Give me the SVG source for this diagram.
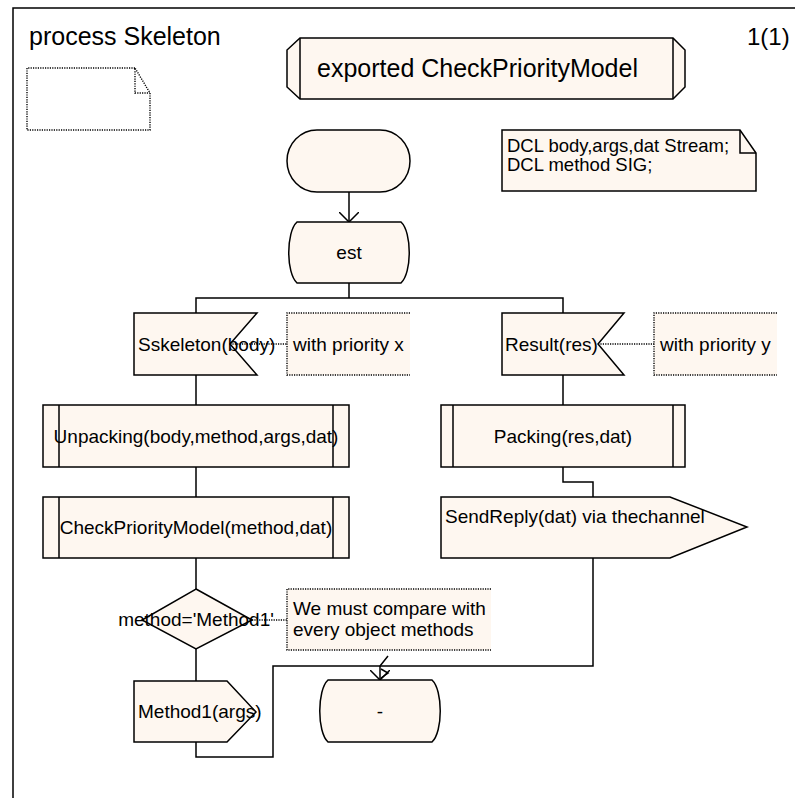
<svg xmlns="http://www.w3.org/2000/svg" width="795" height="798" viewBox="0 0 795 798">
  <style>
    .sym { fill: #FEF7F0; stroke: #000; stroke-width: 1.5; stroke-linejoin: miter; }
    .ln { fill: none; stroke: #000; stroke-width: 1.5; }
    .dot { fill: none; stroke: #000; stroke-width: 1.4; stroke-dasharray: 1.2 1.2; }
    .cmt { fill: #FEF7F0; stroke: none; }
    text { font-family: "Liberation Sans", Arial, sans-serif; font-size: 19px; fill: #000; }
    .mid { text-anchor: middle; }
    .big { font-size: 25px; }
    .dcl { font-size: 18.5px; }
  </style>
  <defs>
    <marker id="open" viewBox="0 0 10 20" refX="10" refY="10" markerWidth="10" markerHeight="20" markerUnits="userSpaceOnUse" orient="auto">
      <path d="M0,0 L10,10 L0,20" fill="none" stroke="#000" stroke-width="1.5"/>
    </marker>
  </defs>

  <rect x="0" y="0" width="795" height="798" fill="#fff"/>

  <!-- diagram frame -->
  <g id="frame">
    <rect x="13" y="8" width="800" height="800" fill="none" stroke="#000" stroke-width="1.5"/>
    <text class="big" x="29" y="45">process Skeleton</text>
    <text x="747" y="45" style="font-size:24px">1(1)</text>
  </g>

  <!-- empty page reference note -->
  <g id="page-note">
    <path class="dot" d="M135,68 H27 V130 H150 V93 L135,68 V93 H150"/>
  </g>

  <!-- exported procedure heading -->
  <g id="heading">
    <path class="sym" d="M300,38 H673 L685,50 V87 L673,99 H300 L287,87 V50 Z"/>
    <path class="ln" d="M300,38 V99 M673,38 V99"/>
    <text class="big" x="317" y="77">exported CheckPriorityModel</text>
  </g>

  <!-- declarations -->
  <g id="dcl">
    <path class="sym" d="M502,130 H740 L756,153 V191 H502 Z"/>
    <path class="ln" d="M740,130 V153 H756"/>
    <text class="dcl" x="507" y="152">DCL body,args,dat Stream;</text>
    <text class="dcl" x="507" y="171">DCL method SIG;</text>
  </g>

  <!-- start -->
  <g id="start">
    <rect class="sym" x="287" y="130" width="123" height="62" rx="30" ry="31"/>
  </g>

  <!-- state est -->
  <g id="state-est">
    <path class="sym" d="M297,222 H401 C412,232 412,273 401,283 H297 C286,273 286,232 297,222 Z"/>
    <text class="mid" x="349" y="259">est</text>
  </g>

  <!-- input Sskeleton(body) -->
  <g id="input-sskeleton">
    <path class="sym" d="M134,313 H257 L230,344 L257,375 H134 Z"/>
    <text x="138" y="351">Sskeleton(body)</text>
  </g>
  <g id="comment-priority-x">
    <rect class="cmt" x="287" y="313" width="123" height="62"/>
    <path class="dot" d="M410,313 H287 V375 H410"/>
    <text x="293" y="351">with priority x</text>
  </g>

  <!-- input Result(res) -->
  <g id="input-result">
    <path class="sym" d="M502,313 H624 L598,344 L624,375 H502 Z"/>
    <text x="505" y="351">Result(res)</text>
  </g>
  <g id="comment-priority-y">
    <rect class="cmt" x="654" y="313" width="123" height="62"/>
    <path class="dot" d="M777,313 H654 V375 H777"/>
    <text x="660" y="351">with priority y</text>
  </g>

  <!-- procedure call Unpacking -->
  <g id="call-unpacking">
    <rect class="sym" x="43" y="405" width="306" height="62"/>
    <path class="ln" d="M59,405 V467 M333,405 V467"/>
    <text class="mid" x="196" y="443">Unpacking(body,method,args,dat)</text>
  </g>

  <!-- procedure call CheckPriorityModel -->
  <g id="call-check">
    <rect class="sym" x="43" y="497" width="306" height="61"/>
    <path class="ln" d="M59,497 V558 M333,497 V558"/>
    <text class="mid" x="196" y="534">CheckPriorityModel(method,dat)</text>
  </g>

  <!-- procedure call Packing -->
  <g id="call-packing">
    <rect class="sym" x="441" y="405" width="244" height="62"/>
    <path class="ln" d="M453,405 V467 M673,405 V467"/>
    <text class="mid" x="563" y="443">Packing(res,dat)</text>
  </g>

  <!-- output SendReply -->
  <g id="output-sendreply">
    <path class="sym" d="M441,497 H670 L747,527 L670,558 H441 Z"/>
    <text x="445" y="523">SendReply(dat) via thechannel</text>
  </g>

  <!-- decision -->
  <g id="decision">
    <path class="sym" d="M196,589 L252,620 L196,649 L142,620 Z"/>
    <text class="mid" x="196" y="626">method='Method1'</text>
  </g>
  <g id="comment-compare">
    <rect class="cmt" x="287" y="589" width="204" height="61"/>
    <path class="dot" d="M491,589 H287 V650 H491"/>
    <text x="293" y="615">We must compare with</text>
    <text x="293" y="636">every object methods</text>
  </g>

  <!-- output Method1 -->
  <g id="output-method1">
    <path class="sym" d="M134,681 H227 L256,712 L227,742 H134 Z"/>
    <text x="138" y="718">Method1(args)</text>
  </g>

  <!-- next state -->
  <g id="state-dash">
    <path class="sym" d="M328,680 H432 C443,690 443,732 432,742 H328 C317,732 317,690 328,680 Z"/>
    <text class="mid" x="380" y="718">-</text>
  </g>

  <!-- flow lines -->
  <g id="connectors">
    <line class="ln" x1="349" y1="192" x2="349" y2="222" marker-end="url(#open)"/>
    <path class="ln" d="M349,283 V298 M196,313 V298 H563 V313"/>
    <path class="ln" d="M196,375 V405 M196,467 V497 M196,558 V589 M196,649 V681"/>
    <path class="ln" d="M563,375 V405 M563,467 V482 H593 V497"/>
    <path class="ln" d="M593,558 V666 H380"/>
    <path class="ln" d="M196,742 V757 H273 V666 H380"/>
    <line class="ln" x1="380" y1="666" x2="380" y2="680" marker-end="url(#open)"/>
    <path class="ln" d="M388,656 L380,666 M381,669 L388,673 L381,678"/>
    <!-- comment links -->
    <path class="dot" d="M230,344 H287 M598,344 H654 M252,620 H287"/>
  </g>
</svg>
